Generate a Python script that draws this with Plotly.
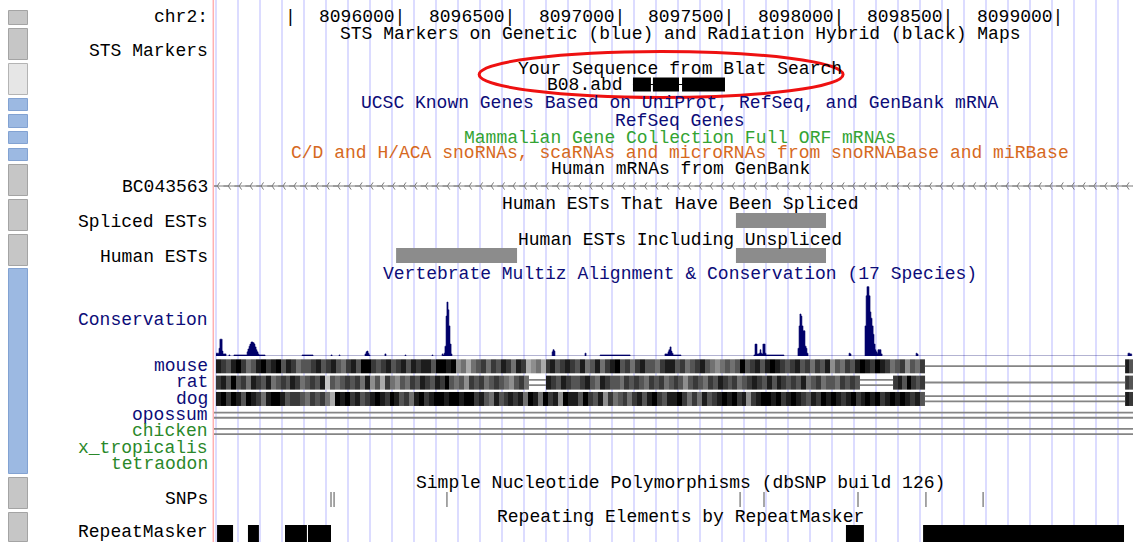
import numpy as np
import plotly.graph_objects as go

# ---------------- view ----------------
W, H = 1133, 542
VIEW_START, VIEW_END = 8095142, 8099336      # chr2 bases shown in the data area
GUIDE_START, GUIDE_STEP = 8095251.5, 100.4    # light blue guide lines

# ---------------- ruler ----------------
chrom_label = "chr2:"
tick_pos = [8095500, 8096000, 8096500, 8097000, 8097500, 8098000, 8098500, 8099000]
tick_labels = ["", "8096000", "8096500", "8097000", "8097500", "8098000", "8098500", "8099000"]

# ---------------- track titles (centre line) ----------------
title_texts = [
    "STS Markers on Genetic (blue) and Radiation Hybrid (black) Maps",
    "Your Sequence from Blat Search",
    "UCSC Known Genes Based on UniProt, RefSeq, and GenBank mRNA",
    "RefSeq Genes",
    "Mammalian Gene Collection Full ORF mRNAs",
    "C/D and H/ACA snoRNAs, scaRNAs and microRNAs from snoRNABase and miRBase",
    "Human mRNAs from GenBank",
    "Human ESTs That Have Been Spliced",
    "Human ESTs Including Unspliced",
    "Vertebrate Multiz Alignment & Conservation (17 Species)",
    "Simple Nucleotide Polymorphisms (dbSNP build 126)",
    "Repeating Elements by RepeatMasker",
]
title_kind = ["black", "black", "navy", "navy", "mgc", "sno", "black", "black",
              "black", "navy", "black", "black"]
TITLE_CENTER = 8097269

# ---------------- left side labels ----------------
left_labels = ["chr2:", "STS Markers", "BC043563", "Spliced ESTs", "Human ESTs",
               "Conservation", "SNPs", "RepeatMasker"]
left_kind = ["black", "black", "black", "black", "black", "navy", "black", "black"]

species = ["mouse", "rat", "dog", "opossum", "chicken", "x_tropicalis", "tetraodon"]
species_kind = ["navy", "navy", "navy", "navy", "green", "green", "green"]

# ---------------- items ----------------
blat_name = "B08.abd"
blat_block_start = [8097054, 8097145, 8097278]
blat_block_end = [8097136, 8097264, 8097474]

mrna_name = "BC043563"
mrna_start, mrna_end = 8094000, 8100500

spliced_est_start = [8097524]
spliced_est_end = [8097935]
est_start = [8095973, 8097524]
est_end = [8096525, 8097935]

# conservation (phastCons-like score, step profile)
cons_pos = [8095151, 8095165, 8095169, 8095179, 8095183, 8095197, 8095210, 8095215,
            8095233, 8095293, 8095297, 8095302, 8095306, 8095311, 8095320, 8095325,
            8095329, 8095334, 8095338, 8095343, 8095347, 8095375, 8095544, 8095594,
            8095676, 8095681, 8095713, 8095717, 8095831, 8095836, 8095840, 8095845,
            8095849, 8095854, 8095922, 8095927, 8096014, 8096018, 8096137, 8096141,
            8096183, 8096187, 8096192, 8096196, 8096201, 8096205, 8096210, 8096214,
            8096219, 8096224, 8096228, 8096685, 8096689, 8096694, 8096698, 8096835,
            8096840, 8096904, 8097041, 8097200, 8097214, 8097218, 8097223, 8097228,
            8097232, 8097237, 8097273, 8097606, 8097611, 8097620, 8097629, 8097634,
            8097638, 8097643, 8097647, 8097657, 8097661, 8097743, 8097807, 8097812,
            8097816, 8097821, 8097825, 8097830, 8097839, 8097844, 8097848, 8097853,
            8098040, 8098045, 8098049, 8098113, 8098118, 8098122, 8098131, 8098136,
            8098140, 8098145, 8098150, 8098154, 8098159, 8098163, 8098168, 8098172,
            8098186, 8098191, 8098346, 8098350, 8098355, 8099313, 8099322, 8099330]
cons_val = [0.04, 0.11, 0.24, 0.07, 0.03, 0.0, 0.015, 0.0,
            0.015, 0.06, 0.10, 0.14, 0.17, 0.20, 0.19, 0.17,
            0.13, 0.09, 0.06, 0.03, 0.015, 0.0, 0.015, 0.0,
            0.015, 0.0, 0.015, 0.0, 0.03, 0.06, 0.07, 0.04,
            0.015, 0.0, 0.03, 0.0, 0.015, 0.0, 0.015, 0.0,
            0.03, 0.015, 0.04, 0.14, 0.57, 0.77, 0.66, 0.43,
            0.17, 0.03, 0.0, 0.06, 0.09, 0.07, 0.0, 0.04,
            0.0, 0.015, 0.0, 0.03, 0.06, 0.09, 0.13, 0.07,
            0.04, 0.015, 0.0, 0.015, 0.17, 0.03, 0.04, 0.09,
            0.04, 0.03, 0.17, 0.04, 0.015, 0.0, 0.11, 0.43,
            0.60, 0.57, 0.43, 0.36, 0.14, 0.11, 0.04, 0.0,
            0.04, 0.03, 0.0, 0.43, 0.86, 0.99, 0.86, 0.63,
            0.54, 0.43, 0.31, 0.17, 0.09, 0.06, 0.04, 0.09,
            0.03, 0.0, 0.04, 0.03, 0.0, 0.04, 0.03, 0.0]

# pairwise alignment shading (0 = white ... 9 = black), one digit per small window
mouse_blocks = [
    (8095151, 8098387,
     "87 68 97 56 89 78 96 87 56 67 86 78 65 78 69 97 67 86 78 68 78 86 99 89 45 35 67 57 68 75 87 34 53 78 67 8"
     "7685 6857 8967 5786 6578 8675 6786 5456 5696 7868 9876 7867 5768 4657 6898 7987 5674 657"),
    (8099300, 8099336, "86"),
]
rat_blocks = [
    (8095151, 8096580, "7869 6758 7685 6768 7567 6826 5676 7584 6375 4657 6876 8796 5647 6756 7654 675"),
    (8096657, 8098090, "876876 6786 5876 6576 7657 6756 7646 7657 6876 7567 8768 6876 7685 6756 6576 76"),
    (8098241, 8098387, "7869767"),
    (8099300, 8099336, "76"),
]
dog_blocks = [
    (8095151, 8098387,
     "8979 8698 7589 9867 7657 6753 9897 8678 9879 8675 8978 9989 9899 7865 8678 7859 8597 8498"
     "8697 6847 5675 7868 9768 8975 7586 7898 9784 7899 8978 9876 8798 9878 9789 8978 9898 786"),
    (8099300, 8099336, "87"),
]
# unaligned stretches: (row, start, end, style)
align_gaps = [
    (0, 8098387, 8099300, "single"),
    (1, 8096580, 8096657, "double"),
    (1, 8098090, 8098241, "double"),
    (1, 8098387, 8099300, "single"),
    (2, 8098387, 8099300, "double"),
    (3, 8094000, 8100500, "double"),
    (4, 8094000, 8100500, "double"),
]

snp_pos = [8095676, 8095690, 8096205, 8097543, 8097652, 8098081, 8098391, 8098652]
repeat_start = [8095156, 8095297, 8095466, 8095571, 8098026, 8098378]
repeat_end = [8095229, 8095347, 8095566, 8095676, 8098108, 8099295]

# ---------------- style ----------------
FONT = "Liberation Mono"
FS = 18
COLORS = {"black": "#000000", "navy": "#0c0c78", "mgc": "#33a333",
          "sno": "#d6691e", "green": "#2a882a"}
CONS_COLOR = "#00006a"
GAP_COLOR = "#858585"

# pixel rows (main y axis runs in screen pixels, top = 0)
tick_row = 17
title_rows = [34, 69, 103, 121, 138, 153, 169, 204, 240, 274, 483, 517]
left_rows = [17, 51, 187, 222, 257, 320, 499, 532]
blat_row, blat_half = 84.5, 7
mrna_row = 186
spliced_row, est_row, est_half = 220.5, 255.5, 7.5
snp_top, snp_bot = 492, 507
rep_top, rep_bot = 525, 548

buttons = [(10, 25, "g"), (28, 60, "g"), (63, 95, "l"), (98, 111, "b"), (114, 128, "b"),
           (131, 144, "b"), (148, 161, "b"), (164, 196, "g"), (199, 231, "g"),
           (234, 266, "g"), (268, 474, "b"), (477, 509, "g"), (512, 542, "g")]
btn_fill = {"g": "#c6c6c6", "l": "#e6e6e6", "b": "#9cb9e2"}
btn_line = {"g": "#a4a4a4", "l": "#b4b4b4", "b": "#82a2d2"}

fig = go.Figure()

# mRNA line with chevrons (main subplot)
fig.add_trace(go.Scatter(x=[mrna_start, mrna_end], y=[mrna_row, mrna_row], mode="lines",
                         line=dict(color="#7a7a7a", width=1), hoverinfo="skip",
                         xaxis="x", yaxis="y"))
chev = np.arange(mrna_start + 7, mrna_end, 50.0)
fig.add_trace(go.Scatter(x=chev, y=[mrna_row] * len(chev), mode="markers",
                         marker=dict(symbol="y-left", size=6,
                                     line=dict(color="#7a7a7a", width=1)),
                         hoverinfo="skip", xaxis="x", yaxis="y"))

# conservation
fig.add_trace(go.Scatter(x=cons_pos, y=cons_val, mode="lines", line_shape="hv",
                         fill="tozeroy", fillcolor=CONS_COLOR,
                         line=dict(color=CONS_COLOR, width=0.6),
                         hoverinfo="skip", xaxis="x", yaxis="y2"))

# alignments
for row, blocks in enumerate([mouse_blocks, rat_blocks, dog_blocks]):
    for start, end, s in blocks:
        vals = [int(c) for c in s.replace(" ", "")]
        edges = np.linspace(start, end, len(vals) + 1)
        fig.add_trace(go.Heatmap(x=edges, y=[row - 0.42, row + 0.42], z=[vals],
                                 zmin=0, zmax=9, showscale=False, hoverinfo="skip",
                                 colorscale=[[0, "#ffffff"], [1, "#000000"]],
                                 xaxis="x", yaxis="y3"))
gx, gy = [], []
for row, s, e, style in align_gaps:
    offs = [0.0] if style == "single" else [-0.16, 0.16]
    for o in offs:
        gx += [s, e, None]
        gy += [row + o, row + o, None]
fig.add_trace(go.Scatter(x=gx, y=gy, mode="lines", line=dict(color=GAP_COLOR, width=1.8),
                         hoverinfo="skip", xaxis="x", yaxis="y3"))

shapes = []
# buttons
for top, bot, k in buttons:
    shapes.append(dict(type="rect", xref="paper", yref="y", x0=8.5 / W, x1=27.5 / W,
                       y0=top + 0.5, y1=bot - 0.5, fillcolor=btn_fill[k],
                       line=dict(color=btn_line[k], width=1), layer="above"))
# red base line at the data area's left edge
shapes.append(dict(type="line", xref="paper", yref="paper", x0=213.3 / W, x1=213.3 / W,
                   y0=0, y1=1, line=dict(color="#ffb0b0", width=1.5)))
# blat blocks
shapes.append(dict(type="line", xref="x", yref="y", x0=blat_block_start[0],
                   x1=blat_block_end[-1], y0=blat_row, y1=blat_row,
                   line=dict(color="#000000", width=1)))
for s, e in zip(blat_block_start, blat_block_end):
    shapes.append(dict(type="rect", xref="x", yref="y", x0=s, x1=e,
                       y0=blat_row - blat_half, y1=blat_row + blat_half,
                       fillcolor="#000000", line=dict(width=0)))
# ESTs
for s, e in zip(spliced_est_start, spliced_est_end):
    shapes.append(dict(type="rect", xref="x", yref="y", x0=s, x1=e,
                       y0=spliced_row - est_half, y1=spliced_row + est_half,
                       fillcolor="#8c8c8c", line=dict(width=0)))
for s, e in zip(est_start, est_end):
    shapes.append(dict(type="rect", xref="x", yref="y", x0=s, x1=e,
                       y0=est_row - est_half, y1=est_row + est_half,
                       fillcolor="#8c8c8c", line=dict(width=0)))
# SNPs
for p in snp_pos:
    shapes.append(dict(type="line", xref="x", yref="y", x0=p, x1=p, y0=snp_top, y1=snp_bot,
                       line=dict(color="#8a8a8a", width=1.5)))
# repeats
for s, e in zip(repeat_start, repeat_end):
    shapes.append(dict(type="rect", xref="x", yref="y", x0=s, x1=e, y0=rep_top, y1=rep_bot,
                       fillcolor="#000000", line=dict(width=0)))
# red highlight ellipse around the Blat hit
shapes.append(dict(type="circle", xref="x", yref="y", x0=8096352, x1=8098013, y0=51.5, y1=97.5,
                   line=dict(color="#ee1111", width=3)))

ann = []
def txt(text, x, y, color, xref="x", yref="y", xanchor="center", xshift=0):
    ann.append(dict(text=text, x=x, y=y, xref=xref, yref=yref, xanchor=xanchor,
                    yanchor="middle", xshift=xshift, showarrow=False,
                    font=dict(family=FONT, size=FS, color=color)))

for p, lab in zip(tick_pos, tick_labels):
    txt(lab + "|", p, tick_row, "#000000", xanchor="right", xshift=5.4)
for t, r, k in zip(title_texts, title_rows, title_kind):
    txt(t, TITLE_CENTER, r, COLORS[k])
for t, r, k in zip(left_labels, left_rows, left_kind):
    txt(t, 210 / W, r, COLORS[k], xref="paper", xanchor="right")
for i, (t, k) in enumerate(zip(species, species_kind)):
    txt(t, 210 / W, i, COLORS[k], xref="paper", yref="y3", xanchor="right")
txt(blat_name, blat_block_start[0], blat_row, "#000000", xanchor="right", xshift=-8)

fig.update_layout(
    width=W, height=H, margin=dict(l=0, r=0, t=0, b=0),
    paper_bgcolor="#ffffff", plot_bgcolor="rgba(0,0,0,0)", showlegend=False,
    shapes=shapes, annotations=ann,
    xaxis=dict(domain=[214 / W, 1], range=[VIEW_START, VIEW_END], showticklabels=False,
               ticks="", zeroline=False, showline=False, showgrid=True,
               tickmode="linear", tick0=GUIDE_START, dtick=GUIDE_STEP,
               gridcolor="#dcdcff", gridwidth=1.5, fixedrange=True),
    yaxis=dict(domain=[0, 1], range=[H, 0], visible=False, fixedrange=True),
    yaxis2=dict(domain=[(H - 356) / H, (H - 286) / H], range=[0, 1], visible=False,
                anchor="x", fixedrange=True),
    yaxis3=dict(domain=[(H - 472.3) / H, (H - 358) / H], range=[6.5, -0.5], visible=False,
                anchor="x", fixedrange=True),
)

fig.write_html("out.html", config={"displayModeBar": False},
               post_script="document.body.style.margin='0px';"
                           "document.body.style.overflow='hidden';")
